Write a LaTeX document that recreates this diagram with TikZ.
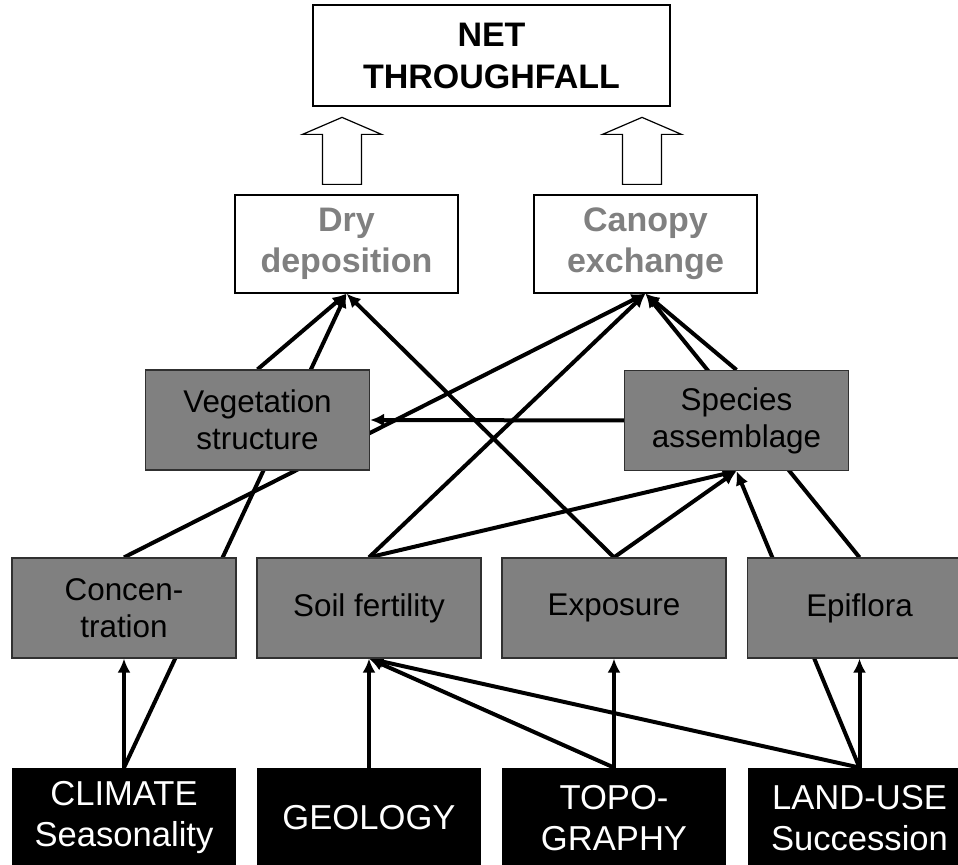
\documentclass[tikz,border=0pt]{standalone}
\usepackage{fontspec}
\setmainfont{Liberation Sans}
\usetikzlibrary{arrows.meta,backgrounds}

\definecolor{boxgray}{HTML}{808080}
\definecolor{edgegray}{HTML}{303030}

\tikzset{
  outcome/.style={draw, fill=white, line width=0.6pt, align=center,
    minimum width=178.5pt, minimum height=50.5pt, inner sep=0pt,
    font=\bfseries\fontsize{17}{21}\selectfont},
  process/.style={draw, fill=white, line width=0.6pt, align=center,
    minimum width=111.5pt, minimum height=49pt, inner sep=0pt,
    text=boxgray, font=\bfseries\fontsize{17}{20.5}\selectfont},
  factor/.style={draw=edgegray, fill=boxgray, line width=0.6pt, align=center,
    minimum width=112pt, minimum height=50pt, inner sep=0pt,
    font=\fontsize{15.7}{18.5}\selectfont},
  driver/.style={fill=black, text=white, align=center,
    minimum width=112pt, minimum height=50pt, inner sep=0pt,
    font=\fontsize{17.3}{20.5}\selectfont},
  link/.style={line width=2pt, -{Latex[length=7pt,width=6.5pt]}},
  hollow/.style={draw, fill=white, line width=0.6pt}
}

\begin{document}
\begin{tikzpicture}[x=0.5pt, y=0.5pt]
  \useasboundingbox (0,0) rectangle (958,865);

  % Result
  \node[outcome] (net) at (491.5,809.5) {NET\\THROUGHFALL};

  % Processes
  \node[process] (dry) at (346.5,621) {Dry\\deposition};
  \node[process] (canopy) at (645.5,621) {Canopy\\exchange};

  % Stand properties
  \node[factor] (veg) at (257.5,445) {Vegetation\\structure};
  \node[factor] (spec) at (736.5,444.5) {Species\\assemblage};

  % Site properties
  \node[factor] (conc) at (124,257) {Concen-\\tration};
  \node[factor] (soil) at (369,257) {Soil fertility};
  \node[factor] (expo) at (614,257) {Exposure};
  \node[factor] (epi) at (859.5,257) {Epiflora};

  % External drivers
  \node[driver] (clim) at (124,47) {CLIMATE\\Seasonality};
  \node[driver] (geo) at (369,47) {GEOLOGY};
  \node[driver] (topo) at (614,47) {TOPO-\\GRAPHY};
  \node[driver] (land) at (859.5,47) {LAND-USE\\Succession};

  % Hollow arrows to the result
  \draw[hollow] (dry.north) ++(-24,10) -- ++(39,0) -- ++(0,50) -- ++(20,0)
    -- ++(-39.5,17) -- ++(-39.5,-17) -- ++(20,0) -- cycle;
  \draw[hollow] (canopy.north) ++(-23,10) -- ++(39,0) -- ++(0,50) -- ++(20,0)
    -- ++(-39.5,17) -- ++(-39.5,-17) -- ++(20,0) -- cycle;

  % Influences (behind the boxes)
  \begin{scope}[on background layer]
    \draw[link] (clim.north) -- (conc.south);
    \draw[link] (clim.north) -- (dry.south);
    \draw[link] (geo.north) -- (soil.south);
    \draw[link] (topo.north) -- (expo.south);
    \draw[link] (topo.north) -- (soil.south);
    \draw[link] (land.north) -- (soil.south);
    \draw[link] (land.north) -- (epi.south);
    \draw[link] (land.north) -- (spec.south);

    \draw[link] (conc.north) -- (canopy.south);
    \draw[link] (soil.north) -- (canopy.south);
    \draw[link] (soil.north) -- (spec.south);
    \draw[link] (expo.north) -- (spec.south);
    \draw[link] (expo.north) -- (dry.south);
    \draw[link] (epi.north) -- (canopy.south);

    \draw[link] (spec.west) -- (veg.east);
    \draw[link] (veg.north) -- (dry.south);
    \draw[link] (spec.north) -- (canopy.south);
  \end{scope}

\end{tikzpicture}
\end{document}
